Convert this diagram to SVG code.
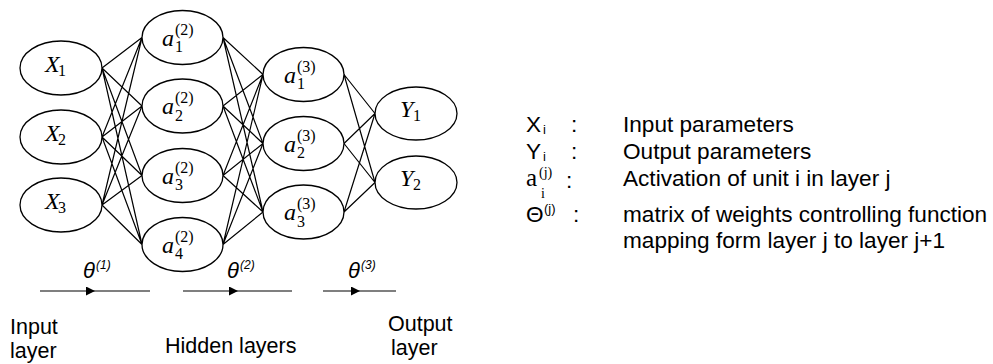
<svg xmlns="http://www.w3.org/2000/svg" width="993" height="364" viewBox="0 0 993 364">
<style>
.node{fill:#fff;stroke:#000;stroke-width:1.3}
.edge{stroke:#000;stroke-width:1.2;fill:none}
.m{font-family:"Liberation Serif",serif;font-style:italic;font-size:24px;fill:#000}
.s{font-family:"Liberation Serif",serif;font-size:16px;fill:#000}
.t{font-family:"Liberation Sans",sans-serif;font-size:21.5px;fill:#000}
.lg{font-family:"Liberation Sans",sans-serif;font-size:22.6px;fill:#000}
.th{font-family:"Liberation Sans",sans-serif;font-style:italic;font-size:22px;fill:#000}
.ths{font-family:"Liberation Sans",sans-serif;font-style:italic;font-size:12px;fill:#000}
.ls{font-family:"Liberation Sans",sans-serif;font-size:13px;fill:#000}
.ss{font-family:"Liberation Serif",serif;font-size:14px;fill:#000}
</style>
<defs>
<marker id="ah" viewBox="0 0 10 10" refX="10" refY="5" markerWidth="9" markerHeight="9" markerUnits="userSpaceOnUse" orient="auto">
<path d="M0,0 L10,5 L0,10 z" fill="#000"/>
</marker>
</defs>
<g id="connectors">
<path class="edge" d="M102,68 L142,37.5 M102,68 L142,106 M102,68 L142,175.5 M102,68 L142,244.5
M102,137 L142,37.5 M102,137 L142,106 M102,137 L142,175.5 M102,137 L142,244.5
M102,205 L142,37.5 M102,205 L142,106 M102,205 L142,175.5 M102,205 L142,244.5"/>
<path class="edge" d="M223,37.5 L263,74.5 M223,37.5 L263,143.5 M223,37.5 L263,212
M223,106 L263,74.5 M223,106 L263,143.5 M223,106 L263,212
M223,175.5 L263,74.5 M223,175.5 L263,143.5 M223,175.5 L263,212
M223,244.5 L263,74.5 M223,244.5 L263,143.5 M223,244.5 L263,212"/>
<path class="edge" d="M344,74.5 L375,113.5 M344,74.5 L375,182.5
M344,143.5 L375,113.5 M344,143.5 L375,182.5
M344,212 L375,113.5 M344,212 L375,182.5"/>
<path class="edge" d="M40,291 L95,291 L150,291" marker-mid="url(#ah)"/>
<path class="edge" d="M183,291 L238,291 L292,291" marker-mid="url(#ah)"/>
<path class="edge" d="M323,291 L360,291" stroke-width="1.6" marker-end="url(#ah)"/>
<path class="edge" d="M360,291 L396,291" stroke="#444"/>
</g>
<g id="x1"><ellipse class="node" cx="61" cy="68" rx="41" ry="27"/><text class="m" x="45" y="72">X</text><text class="s" x="58" y="76">1</text></g>
<g id="x2"><ellipse class="node" cx="61" cy="137" rx="41" ry="27"/><text class="m" x="45" y="141">X</text><text class="s" x="58" y="145">2</text></g>
<g id="x3"><ellipse class="node" cx="61" cy="205" rx="41" ry="27"/><text class="m" x="45" y="209">X</text><text class="s" x="58" y="213">3</text></g>
<g id="a21"><ellipse class="node" cx="182.5" cy="37.5" rx="40.5" ry="27"/><text class="m" x="162" y="45.5">a</text><text class="s" x="175" y="34.5">(2)</text><text class="s" x="175" y="52">1</text></g>
<g id="a22"><ellipse class="node" cx="182.5" cy="106" rx="40.5" ry="27"/><text class="m" x="162" y="114">a</text><text class="s" x="175" y="103">(2)</text><text class="s" x="175" y="120.5">2</text></g>
<g id="a23"><ellipse class="node" cx="182.5" cy="175.5" rx="40.5" ry="27"/><text class="m" x="162" y="183.5">a</text><text class="s" x="175" y="172.5">(2)</text><text class="s" x="175" y="190">3</text></g>
<g id="a24"><ellipse class="node" cx="182.5" cy="244.5" rx="40.5" ry="27"/><text class="m" x="162" y="252.5">a</text><text class="s" x="175" y="241.5">(2)</text><text class="s" x="175" y="259">4</text></g>
<g id="a31"><ellipse class="node" cx="303.5" cy="74.5" rx="40.5" ry="27"/><text class="m" x="284" y="82.5">a</text><text class="s" x="297" y="71.5">(3)</text><text class="s" x="297" y="89">1</text></g>
<g id="a32"><ellipse class="node" cx="303.5" cy="143.5" rx="40.5" ry="27"/><text class="m" x="284" y="151.5">a</text><text class="s" x="297" y="140.5">(3)</text><text class="s" x="297" y="158">2</text></g>
<g id="a33"><ellipse class="node" cx="303.5" cy="212" rx="40.5" ry="27"/><text class="m" x="284" y="220">a</text><text class="s" x="297" y="209">(3)</text><text class="s" x="297" y="226.5">3</text></g>
<g id="y1"><ellipse class="node" cx="416" cy="113.5" rx="41" ry="26.5"/><text class="m" x="400" y="116.5">Y</text><text class="s" x="413" y="120.5">1</text></g>
<g id="y2"><ellipse class="node" cx="416" cy="182.5" rx="41" ry="26.5"/><text class="m" x="400" y="185.5">Y</text><text class="s" x="413" y="189.5">2</text></g>
<g id="theta-labels">
<text class="th" x="83" y="278">θ</text><text class="ths" x="96" y="269">(1)</text>
<text class="th" x="227" y="278">θ</text><text class="ths" x="240" y="269">(2)</text>
<text class="th" x="348" y="278">θ</text><text class="ths" x="361" y="269">(3)</text>
</g>
<g id="layer-labels">
<text class="t" x="10" y="333.5">Input</text>
<text class="t" x="10" y="357.5">layer</text>
<text class="t" x="165" y="353">Hidden layers</text>
<text class="t" x="388" y="330.5">Output</text>
<text class="t" x="391" y="354.5">layer</text>
</g>
<g id="legend">
<text class="lg" x="526" y="132">X</text><text class="ls" x="543" y="134">i</text><text class="lg" x="571" y="132">:</text><text class="lg" x="623" y="132">Input parameters</text>
<text class="lg" x="526" y="159">Y</text><text class="ls" x="543" y="161">i</text><text class="lg" x="571" y="159">:</text><text class="lg" x="623" y="159">Output parameters</text>
<text style="font-family:'Liberation Serif',serif;font-size:25px" x="526" y="186">a</text><text class="ss" x="539" y="177">(j)</text><text class="ss" x="541" y="198">i</text><text class="lg" x="566" y="188">:</text><text class="lg" x="623" y="186">Activation of unit i in layer j</text>
<text class="lg" x="526" y="222">Θ</text><text class="ls" x="544" y="213">(j)</text><text class="lg" x="573" y="222">:</text><text class="lg" x="623" y="222">matrix of weights controlling function</text>
<text class="lg" x="623" y="248">mapping form layer j to layer j+1</text>
</g>
</svg>
